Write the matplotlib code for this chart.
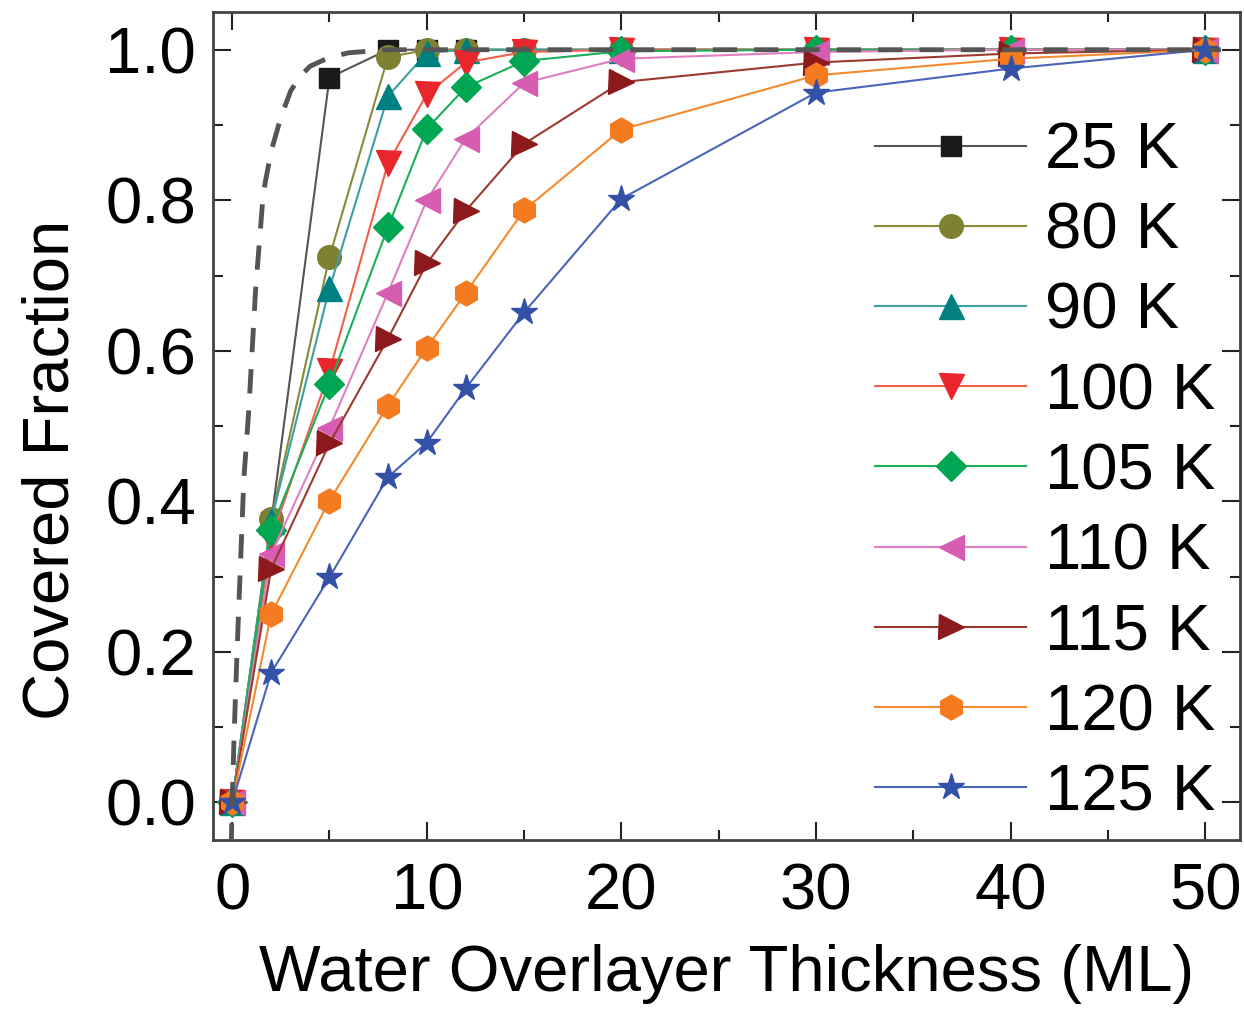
import matplotlib
matplotlib.use('Agg')
import matplotlib.pyplot as plt

plt.rcParams['font.family'] = ['Liberation Sans', 'DejaVu Sans']

thickness = [0, 2, 5, 8, 10, 12, 15, 20, 30, 40, 50]

labels = ['25 K', '80 K', '90 K', '100 K', '105 K', '110 K', '115 K', '120 K', '125 K']
frac_25 = [0, 0.372, 0.963, 1.0, 1.0, 1.0, 1.0, 1.0, 1.0, 1.0, 1.0]
frac_80 = [0, 0.376, 0.725, 0.99, 1.0, 1.0, 1.0, 1.0, 1.0, 1.0, 1.0]
frac_90 = [0, 0.374, 0.683, 0.938, 0.996, 1.0, 1.0, 1.0, 1.0, 1.0, 1.0]
frac_100 = [0, 0.35, 0.573, 0.849, 0.941, 0.983, 0.997, 1.0, 1.0, 1.0, 1.0]
frac_105 = [0, 0.362, 0.556, 0.764, 0.895, 0.95, 0.985, 0.998, 1.0, 1.0, 1.0]
frac_110 = [0, 0.33, 0.498, 0.677, 0.80, 0.882, 0.956, 0.988, 0.997, 1.0, 1.0]
frac_115 = [0, 0.31, 0.477, 0.616, 0.716, 0.786, 0.875, 0.957, 0.983, 0.995, 1.0]
frac_120 = [0, 0.25, 0.401, 0.527, 0.604, 0.677, 0.787, 0.894, 0.966, 0.988, 1.0]
frac_125 = [0, 0.172, 0.299, 0.432, 0.478, 0.55, 0.651, 0.802, 0.943, 0.975, 1.0]
series = [frac_25, frac_80, frac_90, frac_100, frac_105, frac_110, frac_115, frac_120, frac_125]

colors = ['#1a1a1a', '#7f8032', '#008080', '#e8262b', '#00a651', '#d65db1', '#8c1a1c', '#f47b20', '#3451a8']
line_colors = ['#555555', '#8a8a3a', '#3aa0a0', '#f0604a', '#1aae5a', '#e080c0', '#9c3a30', '#f48a30', '#4a64b8']
markers = ['s', 'o', '^', 'v', 'D', '<', '>', 'h', '*']
sizes = [15, 17, 18, 18, 15, 18, 18, 18, 20]

# dashed reference curve
dash_x = [-0.05, 0.0, 0.1, 0.25, 0.4, 0.6, 0.85, 1.2, 1.6, 2.0, 2.5, 3.0, 3.5, 4.0, 5.0, 6.0, 8.0, 50.8]
dash_y = [-0.06, 0.0, 0.09, 0.2, 0.3, 0.43, 0.52, 0.68, 0.81, 0.865, 0.91, 0.945, 0.965, 0.978, 0.99, 0.996, 1.0, 1.0]

fig = plt.figure(figsize=(12.44, 10.09), dpi=100)
ax = fig.add_axes([0.171, 0.1675, 0.826, 0.8205])

for y, lab, c, lc, m, ms in zip(series, labels, colors, line_colors, markers, sizes):
    ax.plot(thickness, y, color=lc, lw=1.5, marker=m, ms=ms, mfc=c, mec=c, label=lab)

ax.plot(dash_x, dash_y, color='#555555', lw=3.5, ls=(0, (5, 3.5)), zorder=5)

ax.set_xlim(-1, 51.8)
ax.set_ylim(-0.05, 1.05)
ax.set_xticks([0, 10, 20, 30, 40, 50])
ax.set_xticks([5, 15, 25, 35, 45], minor=True)
ax.set_yticks([0.0, 0.2, 0.4, 0.6, 0.8, 1.0])
ax.set_yticks([0.1, 0.3, 0.5, 0.7, 0.9], minor=True)
ax.set_yticklabels(['0.0', '0.2', '0.4', '0.6', '0.8', '1.0'])
ax.tick_params(which='both', direction='in', top=True, right=True, width=1.5, color='#222222')
ax.tick_params(which='major', length=13, labelsize=47)
ax.tick_params(axis='x', which='major', pad=16)
ax.tick_params(axis='y', which='major', pad=12)
ax.tick_params(which='minor', length=7)
for s in ax.spines.values():
    s.set_linewidth(2)
    s.set_color('#444444')

ax.set_xlabel('Water Overlayer Thickness (ML)', fontsize=47, labelpad=16)
ax.set_ylabel('Covered Fraction', fontsize=47)
ax.yaxis.set_label_coords(-0.128, 0.447)

ax.legend(loc='upper left', bbox_to_anchor=(0.645, 0.868), frameon=False, fontsize=47,
          handlelength=2.3, handletextpad=0.3, labelspacing=0.31, borderpad=0, borderaxespad=0)

fig.savefig('out.png', dpi=100)
